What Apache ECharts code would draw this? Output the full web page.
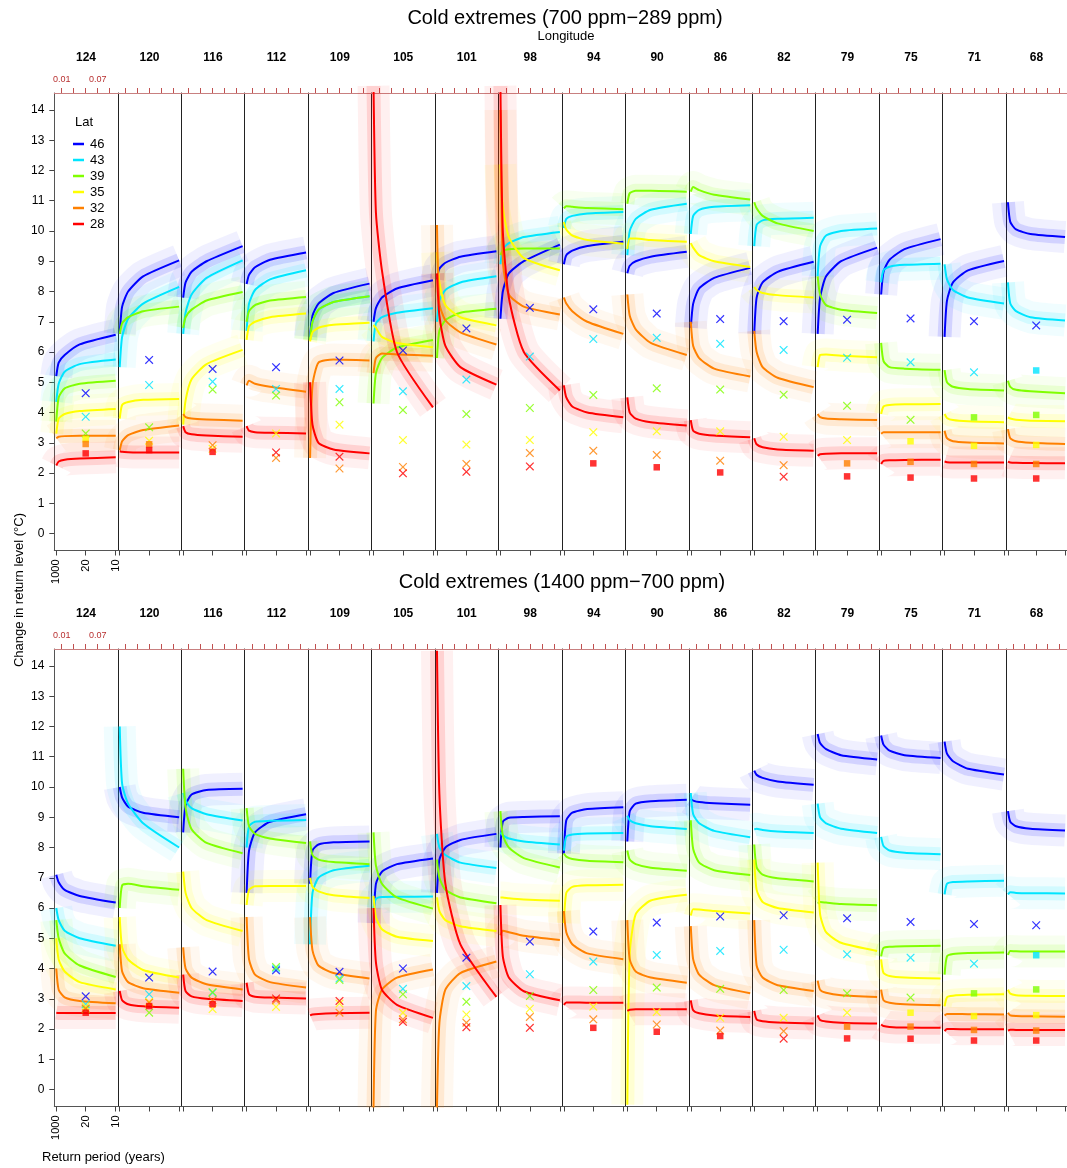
<!DOCTYPE html>
<html><head><meta charset="utf-8">
<script src="https://cdn.jsdelivr.net/npm/echarts@6/dist/echarts.min.js"></script>
<style>html,body{margin:0;padding:0;background:#fff}#c{width:1067px;height:1168px}</style>
</head><body><div id="c"></div>
<script>
// ---------------- DATA ----------------
const longitudes = [124,120,116,112,109,105,101,98,94,90,86,82,79,75,71,68];
const latitudes = ['46','43','39','35','32','28'];
const latColors = ['#0000FF','#00E5FF','#80FF00','#FFFF00','#FF8000','#FF0000'];
// exceedance probabilities (1/return period) at which curves are read
const probs = [0.001, 0.005, 0.015, 0.04, 0.1];
const periodTicks = [1000, 20, 10];
const probTicks = [0.01, 0.03, 0.05, 0.07, 0.09];
const probLabels = [0.01, 0.07];
const markerProb = 0.05;

// ---- Top row: 700 ppm - 289 ppm ----
const top46 = [[5.2,5.65,5.9,6.25,6.57],[6.6,7.5,8.0,8.5,9.03],[7.8,8.3,8.65,9.0,9.5],[8.25,8.55,8.8,9.05,9.29],[6.5,7.2,7.6,7.95,8.26],[7.0,7.45,7.8,8.1,8.37],[8.4,8.75,8.95,9.15,9.33],[7.1,8.0,8.6,9.0,9.55],[8.9,9.2,9.35,9.5,9.64],[8.6,8.85,9.0,9.15,9.31],[6.8,7.6,8.1,8.45,8.78],[6.6,7.8,8.3,8.65,8.98],[6.6,7.8,8.5,9.0,9.45],[7.9,8.65,9.05,9.4,9.73],[6.5,7.7,8.3,8.7,9.01],[10.95,10.3,10.05,9.9,9.8]];
const top43 = [[4.35,4.95,5.35,5.6,5.75],[5.5,6.5,7.1,7.6,8.15],[6.6,7.3,7.9,8.45,9.03],[6.7,7.6,8.05,8.4,8.7],[6.4,7.0,7.4,7.65,7.84],[6.35,6.95,7.15,7.3,7.45],[7.0,7.7,8.05,8.3,8.5],[8.9,9.4,9.6,9.8,9.97],[10.1,10.4,10.5,10.58,10.63],[9.2,10.0,10.4,10.7,10.9],[9.9,10.5,10.7,10.8,10.85],[9.5,10.2,10.35,10.4,10.44],[8.5,9.5,9.85,10.0,10.08],[8.3,8.7,8.82,8.88,8.92],[8.9,8.4,8.05,7.8,7.6],[8.3,7.6,7.35,7.15,7.04]];
const top39 = [[3.7,4.5,4.8,4.95,5.05],[6.6,6.95,7.15,7.35,7.5],[6.8,7.15,7.4,7.7,7.98],[7.0,7.35,7.55,7.7,7.82],[6.4,7.0,7.4,7.65,7.84],[4.3,5.3,5.8,6.15,6.4],[5.8,6.7,7.05,7.3,7.43],[9.2,9.35,9.4,9.42,9.42],[10.75,10.82,10.8,10.76,10.72],[10.9,11.25,11.33,11.33,11.3],[11.3,11.45,11.35,11.2,11.04],[10.95,10.75,10.5,10.25,10.0],[8.5,7.9,7.55,7.4,7.29],[6.3,5.7,5.5,5.45,5.41],[5.4,5.0,4.85,4.78,4.73],[5.05,4.85,4.75,4.7,4.64]];
const top35 = [[3.3,3.8,3.95,4.05,4.12],[3.8,4.25,4.35,4.42,4.45],[3.6,4.4,5.1,5.6,6.07],[6.4,6.85,7.0,7.15,7.27],[6.35,6.65,6.8,6.9,6.97],[6.9,6.8,6.5,6.3,6.16],[9.3,8.3,7.55,7.15,6.88],[12.2,10.8,9.8,9.1,8.7],[10.3,10.05,9.85,9.7,9.58],[9.4,9.75,9.75,9.7,9.64],[9.6,9.45,9.2,9.0,8.81],[8.15,8.05,7.95,7.88,7.8],[5.5,5.9,5.92,5.88,5.83],[3.95,4.2,4.25,4.27,4.28],[3.95,3.82,3.75,3.71,3.68],[3.84,3.8,3.76,3.73,3.71]];
const top32 = [[3.15,3.2,3.22,3.23,3.23],[2.75,3.05,3.25,3.42,3.57],[3.95,3.85,3.8,3.77,3.73],[4.9,5.05,4.95,4.85,4.69],[2.5,4.9,5.65,5.75,5.72],[5.3,5.8,5.95,5.92,5.88],[10.2,7.6,7.05,6.65,6.25],[14.0,9.0,7.9,7.5,7.24],[7.8,7.6,7.35,7.0,6.6],[7.9,7.2,6.75,6.3,5.9],[7.0,6.2,5.8,5.45,5.19],[6.7,6.0,5.5,5.15,4.84],[3.95,3.85,3.8,3.78,3.75],[3.3,3.35,3.35,3.35,3.35],[3.4,3.15,3.05,3.01,2.98],[3.45,3.15,3.05,3.0,2.96]];
const top28 = [[2.25,2.38,2.44,2.48,2.52],[2.72,2.7,2.69,2.68,2.68],[3.55,3.35,3.28,3.24,3.2],[3.55,3.4,3.35,3.33,3.31],[5.0,3.6,3.0,2.78,2.65],[14.8,10.6,8.7,6.0,4.17],[8.6,7.2,6.2,5.5,4.92],[14.8,10.0,7.8,6.0,4.73],[4.9,4.5,4.2,4.0,3.84],[4.5,4.0,3.8,3.68,3.57],[3.75,3.4,3.3,3.24,3.18],[3.15,2.95,2.85,2.78,2.74],[2.57,2.62,2.64,2.65,2.65],[2.3,2.4,2.42,2.43,2.44],[2.38,2.36,2.35,2.35,2.35],[2.38,2.35,2.34,2.33,2.32]];
const topMk46 = [4.64,5.74,5.44,5.5,5.72,6.05,6.78,7.46,7.41,7.27,7.09,7.02,7.07,7.11,7.02,6.88];
const topMk43 = [3.86,4.91,5.02,4.78,4.78,4.7,5.09,5.85,6.43,6.47,6.27,6.07,5.81,5.66,5.33,5.39];
const topMk39 = [3.31,3.51,4.76,4.56,4.34,4.08,3.95,4.15,4.58,4.8,4.76,4.59,4.22,3.76,3.84,3.92];
const topMk35 = [3.12,3.07,2.8,3.31,3.6,3.09,2.94,3.09,3.35,3.38,3.38,3.2,3.09,3.05,2.9,2.93];
const topMk32 = [2.96,2.95,2.92,2.5,2.15,2.2,2.3,2.66,2.74,2.6,2.41,2.26,2.32,2.37,2.3,2.3];
const topMk28 = [2.65,2.76,2.7,2.68,2.54,1.99,2.04,2.22,2.32,2.19,2.02,1.88,1.89,1.85,1.82,1.82];
// number of lowest latitudes drawn as squares (others as crosses)
const topSquares = [3,2,1,0,0,0,0,0,1,1,1,0,2,3,4,5];

// ---- Bottom row: 1400 ppm - 700 ppm ----
const bot46 = [[7.1,6.85,6.6,6.4,6.18],[10.0,9.65,9.35,9.15,9.0],[8.5,9.4,9.75,9.9,9.94],[6.5,7.9,8.5,8.85,9.1],[6.8,7.9,8.1,8.17,8.2],[5.5,6.8,7.2,7.45,7.64],[6.5,7.6,8.0,8.25,8.45],[8.0,8.85,8.98,9.01,9.03],[7.8,8.9,9.15,9.27,9.33],[8.2,9.2,9.45,9.53,9.58],[9.6,9.55,9.5,9.46,9.41],[10.54,10.4,10.3,10.18,10.07],[11.75,11.45,11.25,11.05,10.91],[11.7,11.4,11.2,11.05,10.96],[11.5,11.1,10.85,10.6,10.41],[9.2,8.85,8.7,8.62,8.56]];
const bot43 = [[6.0,5.6,5.25,5.0,4.75],[12.0,10.1,9.45,8.8,8.0],[9.8,9.55,9.3,9.1,8.89],[8.0,8.7,8.85,8.88,8.91],[4.8,6.5,7.0,7.25,7.4],[6.0,6.3,6.36,6.37,6.38],[8.45,8.0,7.75,7.5,7.32],[8.5,8.4,8.3,8.2,8.1],[7.9,8.35,8.43,8.46,8.48],[9.05,8.9,8.8,8.7,8.61],[9.8,9.1,8.8,8.55,8.34],[8.6,8.62,8.58,8.53,8.48],[9.45,9.0,8.8,8.62,8.48],[8.35,8.05,7.9,7.83,7.78],[6.45,6.8,6.86,6.88,6.9],[6.45,6.52,6.5,6.49,6.48]];
const bot39 = [[5.6,5.0,4.5,4.1,3.72],[6.0,6.75,6.8,6.72,6.6],[10.6,9.3,8.6,8.15,7.81],[9.3,8.7,8.45,8.3,8.15],[8.2,7.75,7.6,7.52,7.45],[8.5,7.4,6.8,6.35,5.98],[7.6,7.0,6.6,6.35,6.16],[9.2,8.4,8.0,7.65,7.34],[7.8,7.7,7.62,7.56,7.51],[7.9,7.6,7.45,7.33,7.23],[8.9,7.95,7.5,7.25,7.09],[8.1,7.35,7.1,6.98,6.88],[6.15,6.2,6.18,6.13,6.09],[4.4,4.68,4.72,4.74,4.75],[3.8,4.4,4.48,4.51,4.53],[4.45,4.58,4.57,4.56,4.56]];
const bot35 = [[5.0,4.3,3.9,3.55,3.31],[5.7,4.7,4.3,3.95,3.7],[7.2,6.5,6.0,5.6,5.24],[6.1,6.6,6.72,6.73,6.73],[7.0,6.7,6.55,6.42,6.33],[6.4,5.7,5.3,5.05,4.91],[6.35,5.9,5.6,5.4,5.24],[6.35,6.35,6.32,6.28,6.24],[5.5,6.5,6.7,6.75,6.77],[-0.5,4.5,5.8,6.25,6.44],[5.75,5.96,5.95,5.9,5.82],[7.6,6.6,6.2,6.0,5.85],[7.5,5.8,5.2,4.85,4.58],[4.3,3.85,3.75,3.7,3.67],[2.75,3.05,3.1,3.13,3.15],[3.3,3.17,3.12,3.1,3.09]];
const bot32 = [[4.0,3.3,3.05,2.93,2.85],[4.8,3.9,3.55,3.35,3.2],[4.7,4.0,3.7,3.48,3.31],[5.7,4.3,3.8,3.55,3.37],[5.7,4.6,4.1,3.85,3.67],[-0.6,2.6,3.3,3.7,3.97],[-0.6,2.2,3.3,3.85,4.23],[5.1,5.25,5.2,5.08,4.94],[5.9,5.2,4.8,4.5,4.31],[5.6,4.3,3.9,3.7,3.53],[5.4,4.3,3.8,3.45,3.18],[5.6,4.1,3.7,3.45,3.26],[3.6,3.3,3.2,3.12,3.06],[3.3,2.95,2.87,2.82,2.79],[2.45,2.5,2.5,2.49,2.48],[2.54,2.45,2.43,2.42,2.41]];
const bot28 = [[2.54,2.53,2.53,2.53,2.53],[3.26,2.95,2.82,2.75,2.7],[3.8,3.25,3.08,3.0,2.93],[3.53,3.15,3.07,3.04,3.01],[2.45,2.48,2.5,2.52,2.54],[6.0,4.2,3.3,2.8,2.37],[14.5,9.77,6.8,4.8,3.06],[6.1,4.4,3.7,3.25,2.95],[2.8,2.88,2.88,2.87,2.87],[2.6,2.64,2.65,2.65,2.65],[2.95,2.62,2.52,2.45,2.4],[2.6,2.32,2.26,2.22,2.18],[2.45,2.3,2.25,2.21,2.18],[2.15,2.1,2.07,2.05,2.04],[1.93,2.0,2.0,1.99,1.99],[1.95,1.98,1.97,1.97,1.97]];
const botMk46 = [3.08,3.7,3.9,3.94,3.89,4.0,4.36,4.89,5.22,5.52,5.72,5.76,5.66,5.54,5.47,5.43];
const botMk43 = [2.82,3.15,3.2,4.0,3.67,3.33,3.42,3.81,4.23,4.45,4.58,4.62,4.47,4.36,4.16,4.44];
const botMk39 = [2.65,2.54,3.22,4.05,3.62,3.15,2.9,3.09,3.29,3.37,3.33,3.29,3.18,3.04,3.18,3.31];
const botMk35 = [2.75,2.9,2.66,2.73,2.84,2.54,2.48,2.67,2.74,2.56,2.37,2.37,2.54,2.54,2.43,2.46];
const botMk32 = [2.68,2.87,2.95,2.95,2.54,2.32,2.21,2.4,2.32,2.15,1.95,1.93,2.08,2.08,1.97,1.95];
const botMk28 = [2.54,2.76,2.82,3.01,2.93,2.24,2.06,2.04,2.04,1.91,1.77,1.68,1.69,1.68,1.62,1.62];
const botSquares = [1,1,1,0,0,0,0,0,1,1,1,0,2,3,4,5];

// ---------------- LAYOUT / STYLE ----------------
const FONT = 'Liberation Sans, Arial, Helvetica, sans-serif';
const L0 = 54.3, PW = 63.45, PH = 457.5;
const ROW_TOPS = [93, 649];
const XMIN = -0.0023, XMAX = 0.1034, YMIN = -0.56, YMAX = 14.56;
const yTicks = [0,1,2,3,4,5,6,7,8,9,10,11,12,13,14];
const CROSS = 'path://M1,0L5,4L9,0L10,1L6,5L10,9L9,10L5,6L1,10L0,9L4,5L0,1Z';
const SMOOTH = 0.2;

const rows = [
  {top: ROW_TOPS[0], lines: [top46,top43,top39,top35,top32,top28], marks: [topMk46,topMk43,topMk39,topMk35,topMk32,topMk28], squares: topSquares},
  {top: ROW_TOPS[1], lines: [bot46,bot43,bot39,bot35,bot32,bot28], marks: [botMk46,botMk43,botMk39,botMk35,botMk32,botMk28], squares: botSquares}
];

const grid = [], xAxis = [], yAxis = [], halos = [], mains = [], scatters = [];
rows.forEach((row, r) => {
  longitudes.forEach((lon, k) => {
    const gi = r * 16 + k;
    const first = k === 0;
    grid.push({left: L0 + k * PW, top: row.top, width: PW, height: PH, containLabel: false});
    xAxis.push({
      gridIndex: gi, type: 'value', position: 'bottom', min: XMIN, max: XMAX,
      axisLine: {show: true, onZero: false, lineStyle: {color: '#555', width: 1}},
      axisTick: {show: true, customValues: periodTicks.map(t => 1 / t), length: 5, lineStyle: {color: '#444'}},
      axisLabel: {show: first, customValues: periodTicks.map(t => 1 / t), rotate: 90, margin: 9,
        fontSize: 11, fontFamily: FONT, color: '#000',
        formatter: v => { const t = periodTicks.find(t => Math.abs(1 / t - v) < 1e-6); return t ? String(t) : ''; }},
      splitLine: {show: false}
    });
    xAxis.push({
      gridIndex: gi, type: 'value', position: 'top', min: XMIN, max: XMAX,
      name: String(lon), nameLocation: 'middle', nameGap: 29,
      nameTextStyle: {fontWeight: 'bold', fontSize: 12, fontFamily: FONT, color: '#000'},
      axisLine: {show: true, onZero: false, lineStyle: {color: '#C88080', width: 1}},
      axisTick: {show: true, customValues: probTicks, length: 5, lineStyle: {color: '#C05050'}},
      axisLabel: {show: first, customValues: probLabels, margin: 9, fontSize: 9, fontFamily: FONT, color: '#B83030',
        formatter: v => v.toFixed(2)},
      splitLine: {show: false}
    });
    yAxis.push({
      gridIndex: gi, type: 'value', min: YMIN, max: YMAX,
      axisLine: {show: true, onZero: false, lineStyle: {color: first ? '#555' : '#222', width: 1}},
      axisTick: {show: first, customValues: yTicks, length: 5, lineStyle: {color: '#444'}},
      axisLabel: {show: first, customValues: yTicks, margin: 10, fontSize: 12, fontFamily: FONT, color: '#000'},
      splitLine: {show: false}
    });
    row.lines.forEach((arr, l) => {
      const data = probs.map((p, i) => [p, arr[k][i]]);
      // ensemble spread suggested by two translucent strokes under each curve
      halos.push({type: 'line', xAxisIndex: 2 * gi, yAxisIndex: gi, data, smooth: SMOOTH,
        symbol: 'none', silent: true, z: 1, clip: true,
        lineStyle: {color: latColors[l], width: 32, opacity: 0.06, cap: 'butt', join: 'round'}});
      halos.push({type: 'line', xAxisIndex: 2 * gi, yAxisIndex: gi, data, smooth: SMOOTH,
        symbol: 'none', silent: true, z: 1, clip: true,
        lineStyle: {color: latColors[l], width: 14, opacity: 0.12, cap: 'butt', join: 'round'}});
      mains.push({type: 'line', name: latitudes[l], color: latColors[l], xAxisIndex: 2 * gi, yAxisIndex: gi, data,
        smooth: SMOOTH, symbol: 'none', silent: true, z: 3, clip: true,
        lineStyle: {color: latColors[l], width: 2, join: 'round'}});
    });
    const pts = [];
    row.marks.forEach((mk, l) => {
      const sq = l >= 6 - row.squares[k];
      pts.push({value: [markerProb, mk[k]], symbol: sq ? 'rect' : CROSS, symbolSize: sq ? 6.5 : 8.5,
        itemStyle: {color: latColors[l]}});
    });
    scatters.push({type: 'scatter', xAxisIndex: 2 * gi, yAxisIndex: gi, data: pts, z: 4, silent: true});
  });
});

const chart = echarts.init(document.getElementById('c'), null, {renderer: 'canvas'});
chart.setOption({
  animation: false,
  backgroundColor: '#fff',
  textStyle: {fontFamily: FONT},
  title: [
    {text: 'Cold extremes (700 ppm\u2212289 ppm)', left: 560, top: 3, textAlign: 'center',
      textStyle: {fontSize: 20, fontWeight: 'normal', fontFamily: FONT, color: '#000'}},
    {text: 'Longitude', left: 561, top: 25, textAlign: 'center',
      textStyle: {fontSize: 13, fontWeight: 'normal', fontFamily: FONT, color: '#000'}},
    {text: 'Cold extremes (1400 ppm\u2212700 ppm)', left: 557, top: 567, textAlign: 'center',
      textStyle: {fontSize: 20, fontWeight: 'normal', fontFamily: FONT, color: '#000'}}
  ],
  legend: {
    data: latitudes, orient: 'vertical', left: 68, top: 131, itemWidth: 11, itemHeight: 2.5, itemGap: 0,
    icon: 'rect', selectedMode: false,
    textStyle: {fontSize: 13, fontFamily: FONT, color: '#000', lineHeight: 16, padding: [0, 0, 0, 1]}
  },
  graphic: [
    {type: 'text', x: 84, y: 122, style: {text: 'Lat', font: '13px ' + FONT, fill: '#000', align: 'center', verticalAlign: 'middle'}},
    {type: 'text', x: 19, y: 590, rotation: Math.PI / 2, style: {text: 'Change in return level (\u00B0C)', font: '13px ' + FONT, fill: '#000', align: 'center', verticalAlign: 'middle'}},
    {type: 'text', x: 42, y: 1157, style: {text: 'Return period (years)', font: '13px ' + FONT, fill: '#000', align: 'left', verticalAlign: 'middle'}}
  ],
  grid, xAxis, yAxis,
  series: halos.concat(mains, scatters)
});
</script></body></html>
